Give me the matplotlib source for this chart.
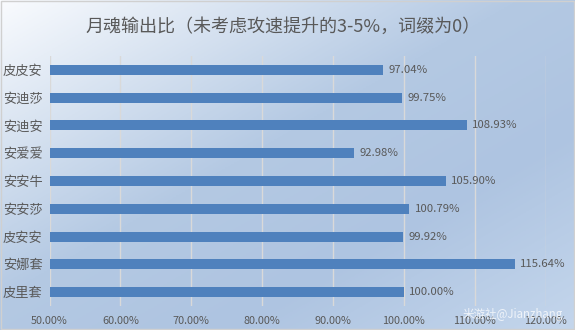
import numpy as np
import matplotlib
matplotlib.use('Agg')
import matplotlib.pyplot as plt
from matplotlib.colors import LinearSegmentedColormap
from matplotlib.patches import Rectangle

plt.rcParams['font.family'] = ['Noto Sans CJK SC', 'DejaVu Sans']

# data, top to bottom as in the chart
names = ["皮皮安", "安迪莎", "安迪安", "安爱爱", "安安牛", "安安莎", "皮安安", "安娜套", "皮里套"]
ratios = [97.04, 99.75, 108.93, 92.98, 105.90, 100.79, 99.92, 115.64, 100.00]
xticks = [50, 60, 70, 80, 90, 100, 110, 120]

title = "月魂输出比（未考虑攻速提升的3-5%，词缀为0）"
text_col = "#595959"
bar_col = "#4f81bd"

fig = plt.figure(figsize=(5.75, 3.3), dpi=100)

# gradient background
bg = fig.add_axes([0, 0, 1, 1], zorder=0)
bg.axis('off')
gx, gy = np.meshgrid(np.linspace(0, 1, 200), np.linspace(0, 1, 200))
t = (gx + gy) / 2
cmap = LinearSegmentedColormap.from_list(
    "bg", [(0, "#f9fbfe"), (0.45, "#b4c9e3"), (0.7, "#aec4e1"), (1, "#c4d6ec")])
bg.imshow(t, cmap=cmap, aspect='auto', extent=[0, 1, 0, 1], origin='upper')
bg.add_patch(Rectangle((0.001, 0.002), 0.997, 0.995, fill=False,
                       edgecolor="#d0d0d0", lw=1, transform=bg.transAxes))

ax = fig.add_axes([0.0861, 0.073, 0.8628, 0.757], zorder=1)
ax.patch.set_alpha(0)

y = np.arange(len(names))
ax.barh(y, ratios, height=0.36, color=bar_col, zorder=3)
for yi, v in zip(y, ratios):
    ax.text(v + 0.75, yi, f"{v:.2f}%", va='center', ha='left',
            fontsize=8.2, color=text_col, zorder=4)

ax.set_xlim(50, 120)
ax.set_ylim(len(names) - 0.5, -0.5)
ax.set_xticks(xticks)
ax.set_xticklabels([f"{v:.2f}%" for v in xticks], fontsize=7.8, color=text_col)
ax.set_yticks(y)
ax.set_yticklabels(names, fontsize=9.5, color=text_col)
ax.tick_params(length=0, pad=7)
ax.tick_params(axis='y', pad=5)
ax.grid(axis='x', color="#d9d9d9", lw=1, zorder=1)
for s in ax.spines.values():
    s.set_visible(False)

fig.text(0.493, 0.918, title, ha='center', va='center', fontsize=13, color=text_col)
fig.text(0.979, 0.048, "米游社@Jianzhang", ha='right', va='center',
         fontsize=8.3, color="white", alpha=0.75, zorder=5)

fig.savefig("out.png", dpi=100)
